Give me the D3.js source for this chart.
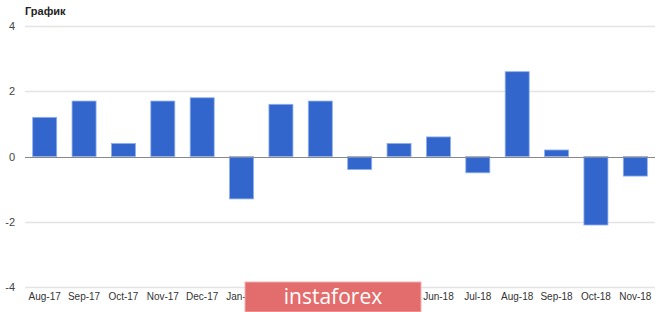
<!DOCTYPE html>
<html>
<head>
<meta charset="utf-8">
<script src="https://cdn.jsdelivr.net/npm/d3@7"></script>
<style>
  body { margin: 0; background: #fff; }
  svg { display: block; font-family: Arial, "Liberation Sans", sans-serif; }
</style>
</head>
<body>
<div id="chart"></div>
<script>
var months = ["Aug-17", "Sep-17", "Oct-17", "Nov-17", "Dec-17", "Jan-18", "Feb-18", "Mar-18",
              "Apr-18", "May-18", "Jun-18", "Jul-18", "Aug-18", "Sep-18", "Oct-18", "Nov-18"];
var values = [1.2, 1.7, 0.4, 1.7, 1.8, -1.3, 1.6, 1.7, -0.4, 0.4, 0.6, -0.5, 2.6, 0.2, -2.1, -0.6];
var yTicks = [-4, -2, 0, 2, 4];
var title = "График";

var width = 665, height = 312;
var margin = {top: 26, right: 10, bottom: 25, left: 25};

var svg = d3.select("#chart")
    .append("svg")
    .attr("width", width)
    .attr("height", height);

var x = d3.scaleBand()
    .domain(months)
    .range([margin.left, width - margin.right])
    .paddingInner(0.39)
    .paddingOuter(0.195);

var y = d3.scaleLinear()
    .domain([-4, 4])
    .range([height - margin.bottom, margin.top]);

// gridlines
svg.append("g")
    .selectAll("line")
    .data(yTicks.filter(function (d) { return d !== 0; }))
    .enter().append("line")
    .attr("x1", margin.left)
    .attr("x2", width - margin.right)
    .attr("y1", function (d) { return Math.round(y(d)) + 0.5; })
    .attr("y2", function (d) { return Math.round(y(d)) + 0.5; })
    .attr("stroke", "#e4e4e4")
    .attr("stroke-width", 1.5);

// y labels
svg.append("g")
    .selectAll("text")
    .data(yTicks)
    .enter().append("text")
    .attr("x", 15)
    .attr("y", function (d) { return y(d) + 4; })
    .attr("text-anchor", "end")
    .attr("font-size", 11)
    .attr("fill", "#444")
    .text(function (d) { return d; });

// bars
svg.append("g")
    .selectAll("rect")
    .data(values)
    .enter().append("rect")
    .attr("x", function (d, i) { return x(months[i]); })
    .attr("width", x.bandwidth())
    .attr("y", function (d) { return y(Math.max(0, d)); })
    .attr("height", function (d) { return Math.abs(y(d) - y(0)); })
    .attr("fill", "#3366cc")
    .attr("stroke", "#8fb0ee")
    .attr("stroke-width", 0.8);

// zero line
svg.append("line")
    .attr("x1", margin.left)
    .attr("x2", width - margin.right)
    .attr("y1", Math.round(y(0)) + 0.5)
    .attr("y2", Math.round(y(0)) + 0.5)
    .attr("stroke", "#888")
    .attr("stroke-width", 1.2);

// x labels
svg.append("g")
    .selectAll("text")
    .data(months)
    .enter().append("text")
    .attr("x", function (d) { return x(d) + x.bandwidth() / 2; })
    .attr("y", 300)
    .attr("text-anchor", "middle")
    .attr("font-size", 10)
    .attr("fill", "#333")
    .text(function (d) { return d; });

// title
svg.append("text")
    .attr("x", 25)
    .attr("y", 15)
    .attr("font-size", 11)
    .attr("font-weight", "bold")
    .attr("fill", "#222")
    .text(title);

// watermark
svg.append("rect")
    .attr("x", 245)
    .attr("y", 282)
    .attr("width", 176)
    .attr("height", 30)
    .attr("fill", "#e36c6c")
    .attr("stroke", "#f0b0b0");
svg.append("text")
    .attr("x", 333)
    .attr("y", 304)
    .attr("text-anchor", "middle")
    .attr("font-size", 21)
    .attr("font-family", "'Open Sans', sans-serif")
    .attr("fill", "#fff")
    .text("instaforex");
</script>
</body>
</html>
